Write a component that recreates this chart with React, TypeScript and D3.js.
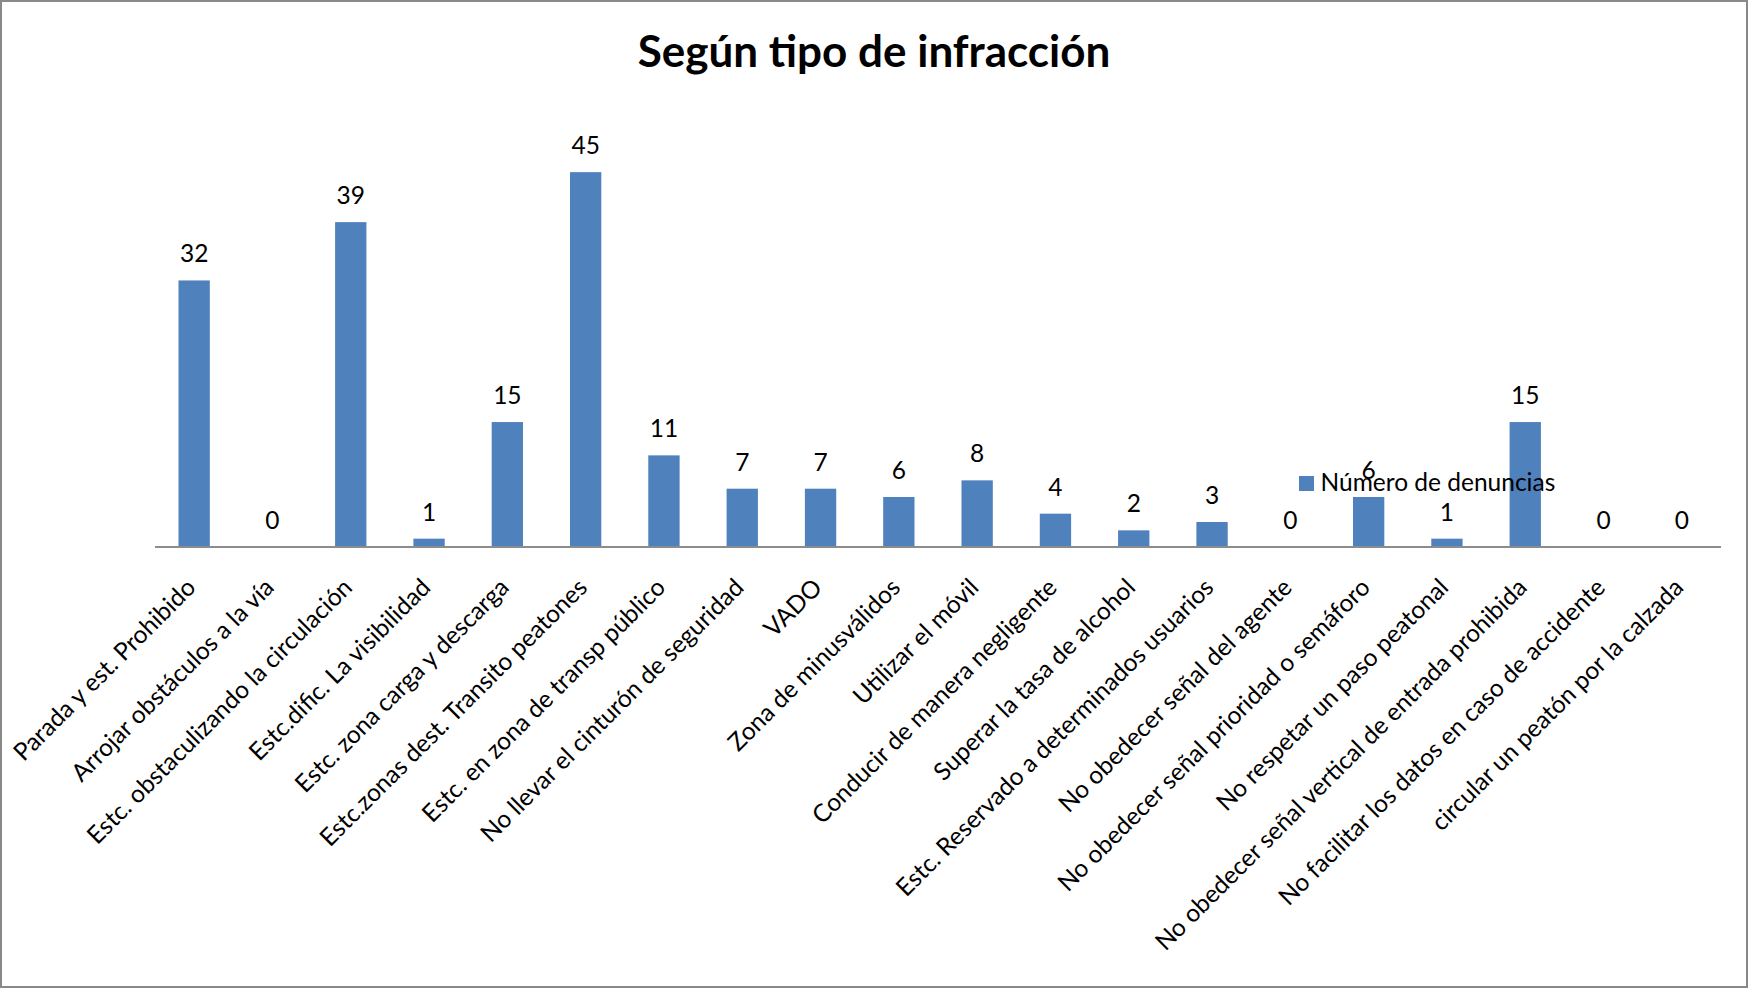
import React from 'react';
import * as d3 from 'd3';

const categories = [
  'Parada y est. Prohibido',
  'Arrojar obstáculos a la vía',
  'Estc. obstaculizando la circulación',
  'Estc.dific. La visibilidad',
  'Estc. zona carga y descarga',
  'Estc.zonas dest. Transito peatones',
  'Estc. en zona de transp público',
  'No llevar el cinturón de seguridad',
  'VADO',
  'Zona de minusválidos',
  'Utilizar el móvil',
  'Conducir de manera negligente',
  'Superar la tasa de alcohol',
  'Estc. Reservado a determinados usuarios',
  'No obedecer señal del agente',
  'No obedecer señal prioridad o semáforo',
  'No respetar un paso peatonal',
  'No obedecer señal vertical de entrada prohibida',
  'No facilitar los datos en caso de accidente',
  'circular un peatón por la calzada',
];

const denuncias = [32, 0, 39, 1, 15, 45, 11, 7, 7, 6, 8, 4, 2, 3, 0, 6, 1, 15, 0, 0];

const title = 'Según tipo de infracción';
const seriesName = 'Número de denuncias';

const width = 1748;
const height = 989;
const barColor = '#4f81bd';
const font = 'Lato, "Open Sans", sans-serif';

export default function App() {
  const x = d3
    .scaleBand<string>()
    .domain(categories)
    .range([155, 1721])
    .paddingInner(0.6)
    .paddingOuter(0.3);

  const y = d3.scaleLinear().domain([0, 50]).range([547, 130.5]);

  return (
    <svg
      width={width}
      height={height}
      style={{ position: 'absolute', left: 0, top: 0, fontFamily: font }}
    >
      <rect x={0} y={0} width={width} height={height} fill="#fff" />
      <rect x={1} y={1} width={width - 2} height={height - 3} fill="none" stroke="#898989" strokeWidth={2} />

      <text x={width / 2} y={67} textAnchor="middle" fontSize={44} fontWeight="bold" fill="#000">
        {title}
      </text>

      <g className="bars">
        {categories.map((c, i) => (
          <rect
            key={c}
            x={x(c)}
            y={y(denuncias[i])}
            width={x.bandwidth()}
            height={y(0) - y(denuncias[i])}
            fill={barColor}
          />
        ))}
      </g>

      <line x1={x.range()[0]} x2={x.range()[1]} y1={y(0)} y2={y(0)} stroke="#8c8c8c" strokeWidth={2} />

      <g className="value-labels">
        {categories.map((c, i) => (
          <text
            key={c}
            x={(x(c) as number) + x.bandwidth() / 2}
            y={y(denuncias[i]) - 18}
            textAnchor="middle"
            fontSize={24.5}
            fill="#000"
          >
            {denuncias[i]}
          </text>
        ))}
      </g>

      <g className="axis-bottom">
        {categories.map(c => {
          const cx = (x(c) as number) + x.bandwidth() / 2 + 3;
          return (
            <text
              key={c}
              transform={`translate(${cx},589) rotate(-45)`}
              textAnchor="end"
              fontSize={24.5}
              fill="#000"
            >
              {c}
            </text>
          );
        })}
      </g>

      <g className="legend" transform="translate(1299,476)">
        <rect width={15} height={15} fill={barColor} />
        <text x={21.5} y={15} fontSize={24.5} fill="#000">
          {seriesName}
        </text>
      </g>
    </svg>
  );
}
